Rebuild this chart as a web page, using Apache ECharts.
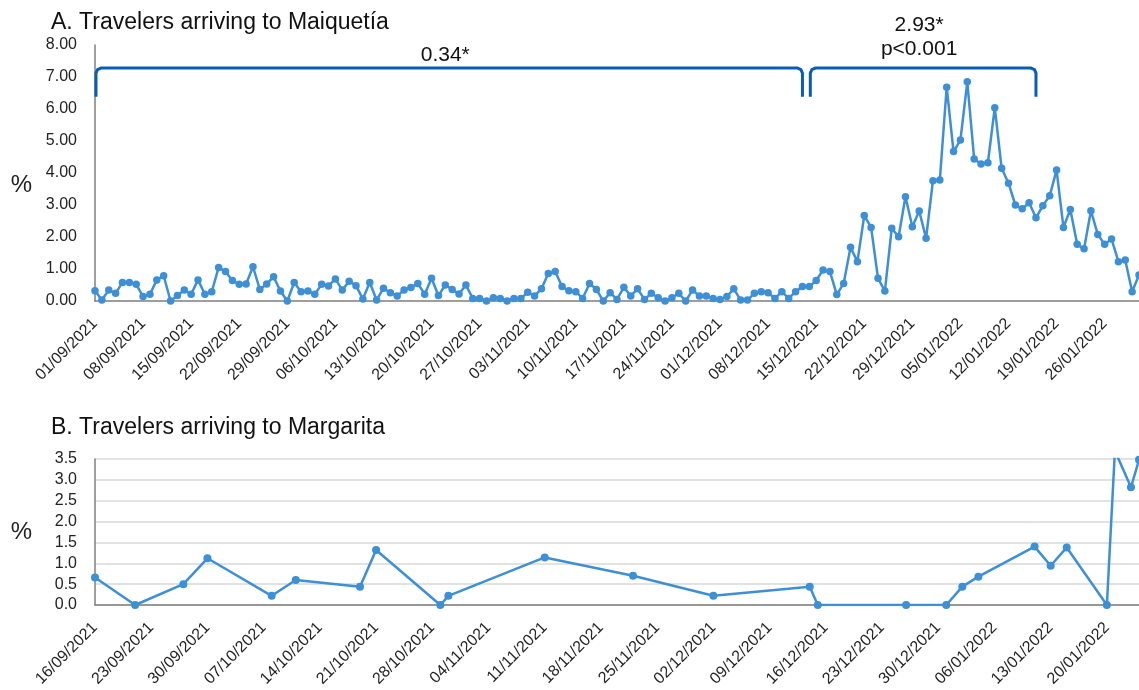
<!DOCTYPE html>
<html>
<head>
<meta charset="utf-8">
<script src="https://cdn.jsdelivr.net/npm/echarts@6/dist/echarts.min.js"></script>
<style>
  html, body { margin: 0; padding: 0; background: #fff; }
  #chart { width: 1139px; height: 690px; }
</style>
</head>
<body>
<div id="chart"></div>
<script>
// daily category labels dd/mm/yyyy
function dayList(d, m, y, n) {
  const pad = v => (v < 10 ? '0' : '') + v;
  const out = [];
  for (let i = 0; i < n; i++) {
    const c = new Date(y, m - 1, d + i);
    out.push(pad(c.getDate()) + '/' + pad(c.getMonth() + 1) + '/' + c.getFullYear());
  }
  return out;
}

// A. Maiquetia, one value per day from 01/09/2021
const maiquetiaDates = dayList(1, 9, 2021, 153);
const maiquetiaValues = [
  0.32,0.03,0.34,0.24,0.58,0.58,0.52,0.14,0.21,0.66,
  0.79,0.00,0.17,0.34,0.21,0.66,0.21,0.29,1.05,0.92,
  0.64,0.52,0.53,1.07,0.36,0.53,0.76,0.31,0.00,0.58,
  0.29,0.31,0.21,0.52,0.47,0.69,0.34,0.62,0.48,0.06,
  0.58,0.03,0.40,0.26,0.16,0.34,0.42,0.55,0.21,0.71,
  0.17,0.50,0.36,0.22,0.50,0.08,0.08,0.00,0.10,0.08,
  0.00,0.08,0.08,0.27,0.16,0.38,0.86,0.92,0.45,0.32,
  0.29,0.08,0.55,0.36,0.00,0.26,0.05,0.43,0.16,0.38,
  0.05,0.24,0.10,0.00,0.10,0.24,0.00,0.34,0.16,0.16,
  0.08,0.05,0.14,0.38,0.03,0.03,0.24,0.29,0.26,0.08,
  0.29,0.08,0.29,0.45,0.45,0.64,0.97,0.92,0.20,0.55,
  1.68,1.23,2.67,2.30,0.71,0.31,2.27,2.01,3.26,2.32,
  2.81,1.96,3.76,3.78,6.68,4.67,5.03,6.85,4.44,4.28,
  4.32,6.04,4.15,3.68,3.00,2.88,3.07,2.60,2.98,3.29,
  4.09,2.30,2.86,1.77,1.63,2.82,2.08,1.77,1.94,1.23,
  1.28,0.29,0.81
];

// periods marked above panel A
const bracketStart = ['01/09/2021', '14/12/2021'];
const bracketEnd = ['13/12/2021', '16/01/2022'];
const bracketText = ['0.34*', '2.93*\np<0.001'];

// B. Margarita, only the days with a value
const margaritaAxis = dayList(16, 9, 2021, 131);
const margaritaDates = [
  '16/09/2021','21/09/2021','27/09/2021','30/09/2021','08/10/2021','11/10/2021',
  '19/10/2021','21/10/2021','29/10/2021','30/10/2021','11/11/2021','22/11/2021',
  '02/12/2021','14/12/2021','15/12/2021','26/12/2021','31/12/2021','02/01/2022',
  '04/01/2022','11/01/2022','13/01/2022','15/01/2022','20/01/2022','21/01/2022',
  '23/01/2022','24/01/2022'
];
const margaritaValues = [
  0.66, 0.00, 0.50, 1.12, 0.22, 0.60,
  0.44, 1.32, 0.00, 0.22, 1.14, 0.70,
  0.22, 0.44, 0.00, 0.00, 0.00, 0.44,
  0.68, 1.40, 0.94, 1.38, 0.00, 3.70,
  2.82, 3.48
];

const margaritaSeries = margaritaAxis.map(d => {
  const k = margaritaDates.indexOf(d);
  return k < 0 ? null : margaritaValues[k];
});
const bracketData = bracketStart.map((s, i) => [maiquetiaDates.indexOf(s), maiquetiaDates.indexOf(bracketEnd[i])]);

const FONT = 'Liberation Sans, Arial, sans-serif';
const LINE = '#3d8fd6';
const BRACKET = '#0a5cb4';
const BR_TOP = 7.28, BR_FOOT = 6.38;

const chart = echarts.init(document.getElementById('chart'), null, { renderer: 'canvas' });

const xAxisBase = {
  type: 'category',
  boundaryGap: false,
  axisLine: { lineStyle: { color: '#7f7f7f', width: 1.5 } },
  axisTick: { show: false },
  axisLabel: { interval: 6, rotate: 45, margin: 20, fontSize: 16, color: '#222', fontFamily: FONT }
};
const yAxisBase = {
  type: 'value',
  nameLocation: 'middle',
  nameRotate: 0,
  nameGap: 63,
  nameTextStyle: { fontSize: 24, color: '#222', fontFamily: FONT },
  axisLine: { show: true, lineStyle: { color: '#7f7f7f', width: 1.5 } },
  axisTick: { show: false },
  axisLabel: { fontSize: 16, color: '#222', fontFamily: FONT, margin: 18 }
};

chart.setOption({
  animation: false,
  title: [
    { text: 'A. Travelers arriving to Maiquetía', left: 46, top: 6,
      textStyle: { fontSize: 23, fontWeight: 'normal', color: '#111', fontFamily: FONT } },
    { text: 'B. Travelers arriving to Margarita', left: 46, top: 411,
      textStyle: { fontSize: 23, fontWeight: 'normal', color: '#111', fontFamily: FONT } }
  ],
  grid: [
    { left: 95, right: 0, top: 45, height: 256 },
    { left: 95, right: 0, top: 459, height: 146 }
  ],
  xAxis: [
    Object.assign({ gridIndex: 0, data: maiquetiaDates }, xAxisBase),
    Object.assign({ gridIndex: 1, data: margaritaAxis }, xAxisBase)
  ],
  yAxis: [
    Object.assign({}, yAxisBase, {
      gridIndex: 0, min: 0, max: 8, interval: 1, name: '%',
      nameTextStyle: Object.assign({}, yAxisBase.nameTextStyle, { verticalAlign: 'top' }),
      splitLine: { show: false },
      axisLabel: Object.assign({}, yAxisBase.axisLabel, { formatter: v => v.toFixed(2) })
    }),
    Object.assign({}, yAxisBase, {
      gridIndex: 1, min: 0, max: 3.5, interval: 0.5, name: '%',
      splitLine: { show: true, lineStyle: { color: '#d9d9d9', width: 1.5 } },
      axisLabel: Object.assign({}, yAxisBase.axisLabel, { formatter: v => v.toFixed(1) })
    })
  ],
  series: [
    {
      type: 'line', xAxisIndex: 0, yAxisIndex: 0, data: maiquetiaValues,
      symbol: 'circle', symbolSize: 7.5, showAllSymbol: true,
      lineStyle: { color: LINE, width: 2.5 }, itemStyle: { color: LINE }
    },
    {
      type: 'line', xAxisIndex: 1, yAxisIndex: 1, data: margaritaSeries,
      connectNulls: true, clip: true,
      symbol: 'circle', symbolSize: 8, showAllSymbol: true,
      lineStyle: { color: LINE, width: 2.5 }, itemStyle: { color: LINE }
    },
    {
      type: 'custom', xAxisIndex: 0, yAxisIndex: 0, data: bracketData,
      encode: { x: [0, 1] }, silent: true,
      renderItem: function (params, api) {
        const a = api.coord([api.value(0), BR_TOP]);
        const b = api.coord([api.value(1), BR_FOOT]);
        const x0 = a[0] + 1, x1 = b[0], yt = a[1], yb = b[1], r = 5;
        const label = bracketText[params.dataIndex];
        const gap = label.indexOf('\n') >= 0 ? 7 : 1;
        return {
          type: 'group',
          children: [
            {
              type: 'polyline',
              shape: { points: [[x0, yb], [x0, yt + r], [x0 + 1.5, yt + 1.5], [x0 + r, yt],
                                [x1 - r, yt], [x1 - 1.5, yt + 1.5], [x1, yt + r], [x1, yb]] },
              style: { stroke: BRACKET, lineWidth: 3, fill: null }
            },
            {
              type: 'text',
              style: {
                text: label, x: (x0 + x1) / 2 - 4, y: yt - gap,
                align: 'center', verticalAlign: 'bottom', lineHeight: 24,
                fontSize: 21, fontFamily: FONT, fill: '#111'
              }
            }
          ]
        };
      }
    }
  ]
});
</script>
</body>
</html>
